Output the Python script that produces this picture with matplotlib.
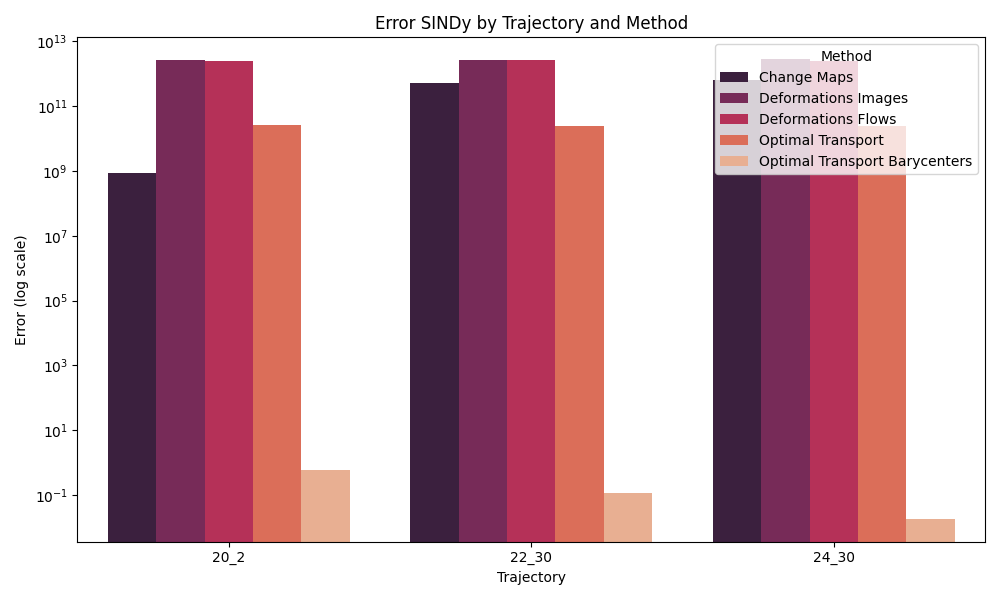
import numpy as np
import matplotlib
matplotlib.use("Agg")
import matplotlib.pyplot as plt
import pandas as pd
import seaborn as sns

# values
trajectories = ['20_2', '22_30', '24_30']
methods = ['Change Maps', 'Deformations Images', 'Deformations Flows',
           'Optimal Transport', 'Optimal Transport Barycenters']
change_maps = [8.7e8, 5.0e11, 6.5e11]
deformations_images = [2.6e12, 2.6e12, 2.8e12]
deformations_flows = [2.4e12, 2.6e12, 2.4e12]
optimal_transport = [2.6e10, 2.4e10, 2.4e10]
ot_barycenters = [0.58, 0.114, 0.019]

errors = [change_maps, deformations_images, deformations_flows,
          optimal_transport, ot_barycenters]

rows = []
for m, vals in zip(methods, errors):
    for t, v in zip(trajectories, vals):
        rows.append({'Trajectory': t, 'Method': m, 'Error': v})
df = pd.DataFrame(rows)

plt.figure(figsize=(10, 6))
ax = sns.barplot(data=df, x='Trajectory', y='Error', hue='Method',
                 hue_order=methods, palette='rocket')
ax.set_yscale('log')
ax.set_ylim(3.7e-3, 1.3e13)
plt.title('Error SINDy by Trajectory and Method')
plt.xlabel('Trajectory')
plt.ylabel('Error (log scale)')
plt.legend(title='Method', loc='upper right')
plt.tight_layout()
plt.savefig('out.png', dpi=100)
